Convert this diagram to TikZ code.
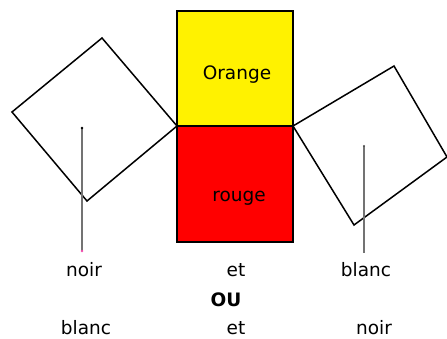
\documentclass[tikz,border=0pt]{standalone}
\usepackage{fontspec}
\setmainfont{DejaVu Sans}
\begin{document}
\begin{tikzpicture}[x=1pt,y=-1pt,
  sq/.style={draw=black,line width=1.5pt,line join=miter},
  box/.style={draw=black,line width=2pt},
  axis/.style={draw=black!55,line width=1.1pt},
  lbl/.style={font=\fontsize{18.5}{22}\selectfont,inner sep=0pt,anchor=base}]
\useasboundingbox (0,0) rectangle (447,338);
% central rectangles
\filldraw[box,fill=yellow] (177,11) rectangle (293,126);
\filldraw[box,fill=red] (177,126) rectangle (293,242);
\node[lbl] (orange) at (237,79) {Orange};
\node[lbl] (rouge) at (239,201) {rouge};
% left square
\coordinate (L1) at (102,38);
\coordinate (L2) at (12,112);
\coordinate (L3) at (87,201);
\coordinate (L4) at (177,126);
\draw[sq] (L1) -- (L2) -- (L3) -- (L4) -- cycle;
\coordinate (la) at (82,128);
\coordinate (lb) at (82,251);
\draw[axis] (la) -- (lb);
\fill[black] (la) circle (1.3);
\fill[magenta!70] (lb) circle (1.3);
% right square
\coordinate (R1) at (293,126);
\coordinate (R2) at (394,66);
\coordinate (R3) at (447,157);
\coordinate (R4) at (354,225);
\draw[sq] (R1) -- (R2) -- (R3) -- (R4) -- cycle;
\coordinate (ra) at (364,146);
\coordinate (rb) at (364,253);
\draw[axis] (ra) -- (rb);
\fill[black!70] (ra) circle (1.2);
% labels
\node[lbl] (n1) at (84,276) {noir};
\node[lbl] (e1) at (236,276) {et};
\node[lbl] (b1) at (366,276) {blanc};
\node[lbl,font=\fontsize{18.5}{22}\selectfont\bfseries] (ou) at (226,306) {OU};
\node[lbl] (b2) at (86,334) {blanc};
\node[lbl] (e2) at (236,334) {et};
\node[lbl] (n2) at (374,334) {noir};
\end{tikzpicture}
\end{document}
